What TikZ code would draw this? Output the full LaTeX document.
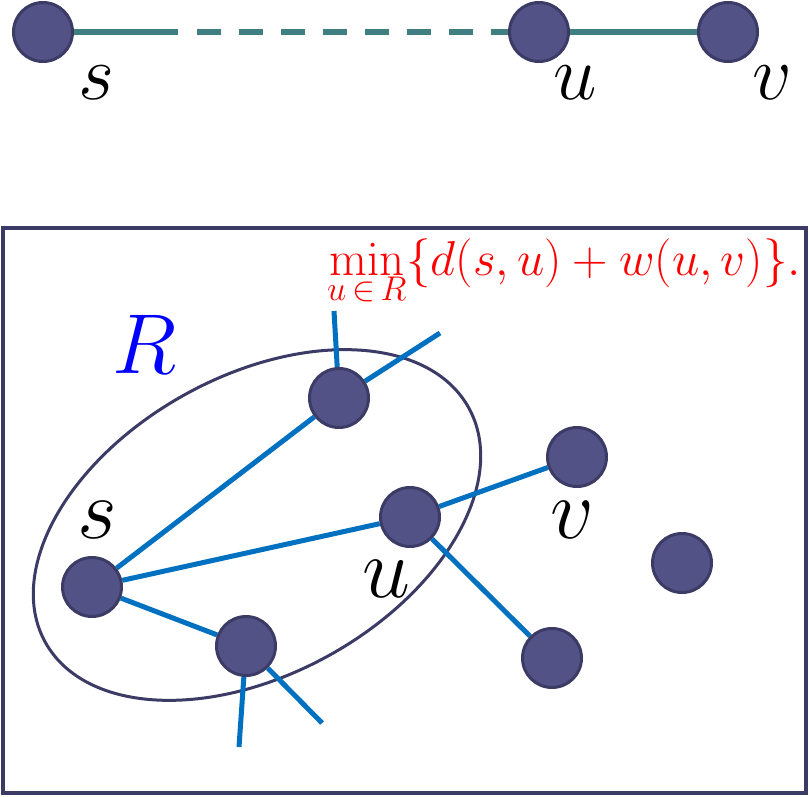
\RequirePackage{fix-cm}
\documentclass[tikz,border=0pt]{standalone}
\usetikzlibrary{backgrounds}
\definecolor{nodefill}{HTML}{525286}
\definecolor{nodeedge}{HTML}{3B3B66}
\definecolor{pathteal}{HTML}{3F7F80}
\definecolor{edgeblue}{HTML}{0070C0}
\begin{document}
\begin{tikzpicture}[x=1pt,y=-1pt,
  vert/.style={circle,fill=nodefill,draw=nodeedge,line width=3pt,minimum size=59pt,inner sep=0pt},
  toplbl/.style={font=\fontsize{78}{90}\selectfont,inner sep=0pt},
  botlbl/.style={font=\fontsize{86}{96}\selectfont,inner sep=0pt},
  topline/.style={draw=pathteal,line width=6pt},
  shadowline/.style={draw=black,opacity=0.18,line width=6pt},
  gedge/.style={draw=edgeblue,line width=5pt},
  frame/.style={draw=nodeedge,line width=4pt},
  region/.style={draw=nodeedge,line width=3pt}]
\useasboundingbox (0,0) rectangle (809,797);
% top path
\node[vert] (ts) at (43,32) {};
\node[vert] (tu) at (539,32) {};
\node[vert] (tv) at (728,32) {};
\coordinate (tsolid) at (178,32);
\coordinate (tdash) at (197,32);
\node[toplbl] (ls) at (96,83) {$s$};
\node[toplbl] (lu) at (575,83) {$u$};
\node[toplbl] (lv) at (772,83) {$v$};
% bottom graph
\node[vert] (bs) at (92,587) {};
\node[vert] (bt) at (339,398) {};
\node[vert] (bu) at (410,517) {};
\node[vert] (bb) at (246,646) {};
\node[vert] (bv) at (577,457) {};
\node[vert] (bx) at (682,563) {};
\node[vert] (by) at (552,658) {};
\coordinate (e1) at (334,311);
\coordinate (e2) at (440,333);
\coordinate (e3) at (239,747);
\coordinate (e4) at (322,723);
\node[botlbl] (lbs) at (97,520) {$s$};
\node[botlbl] (lbu) at (386,579) {$u$};
\node[botlbl] (lbv) at (572,520) {$v$};
\node[botlbl,text=blue,font=\fontsize{85}{96}\selectfont] (lR) at (145,344) {$R$};
\node[text=red,font=\fontsize{49}{58}\selectfont,anchor=base west,inner sep=0pt] (formula) at (327,275)
  {$\min\limits_{u\,\in\,R}\{d(s,u)+w(u,v)\}.$};
\begin{scope}[on background layer]
  \draw[frame] (3,228) rectangle (806,793);
  \draw[region,rotate around={29:(257,525)}] (257,525) ellipse [x radius=242pt,y radius=149pt];
  \draw[shadowline,dash pattern=on 24pt off 18pt,yshift=-3pt] (tdash) -- (tu);
  \draw[shadowline,yshift=-3pt] (tu) -- (tv);
  \draw[topline] (ts) -- (tsolid);
  \draw[topline,dash pattern=on 24pt off 18pt] (tdash) -- (tu);
  \draw[topline] (tu) -- (tv);
  \draw[gedge] (bs) -- (bt);
  \draw[gedge] (bs) -- (bu);
  \draw[gedge] (bs) -- (bb);
  \draw[gedge] (bt) -- (e1);
  \draw[gedge] (bt) -- (e2);
  \draw[gedge] (bu) -- (bv);
  \draw[gedge] (bu) -- (by);
  \draw[gedge] (bb) -- (e3);
  \draw[gedge] (bb) -- (e4);
\end{scope}
\end{tikzpicture}
\end{document}
